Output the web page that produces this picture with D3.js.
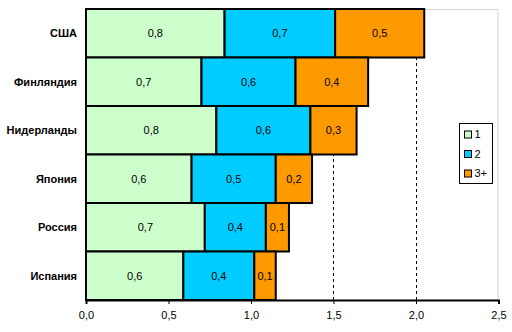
<!DOCTYPE html>
<html>
<head>
<meta charset="utf-8">
<script src="https://cdn.jsdelivr.net/npm/d3@7/dist/d3.min.js"></script>
<style>
  html, body { margin: 0; padding: 0; background: #fff; }
  svg { display: block; font-family: "Liberation Sans", Arial, sans-serif; }
</style>
</head>
<body>
<svg id="chart" width="512" height="332"></svg>
<script>
// Countries, top to bottom
const categories = ["США", "Финляндия", "Нидерланды", "Япония", "Россия", "Испания"];
// Stacked series (segment widths)
const seriesNames = ["1", "2", "3+"];
const s1 = [0.84, 0.70, 0.79, 0.64, 0.72, 0.59];
const s2 = [0.67, 0.57, 0.57, 0.51, 0.37, 0.43];
const s3 = [0.54, 0.44, 0.28, 0.22, 0.14, 0.13];
const xTicks = [0, 0.5, 1.0, 1.5, 2.0, 2.5];
const colors = ["#ccffcc", "#00ccff", "#ff9900"];

const svg = d3.select("#chart");
const margin = { left: 86, top: 9 };

const x = d3.scaleLinear().domain([0, 2.5]).range([margin.left, 498.5]);
const y = d3.scaleBand().domain(categories).range([margin.top, 300]).padding(0);

const rows = categories.map((c, i) => ({ cat: c, "1": s1[i], "2": s2[i], "3+": s3[i] }));
const stacked = d3.stack().keys(seriesNames)(rows);
const fmt = v => d3.format(".1f")(v).replace(".", ",");

// plot area frame (light gray top / right)
svg.append("path")
  .attr("d", `M${margin.left},${margin.top + 0.5}H${x(2.5) - 0.5}V300`)
  .attr("fill", "none").attr("stroke", "#d4d4d4").attr("stroke-width", 1);

// dashed vertical gridlines
svg.append("g").selectAll("line")
  .data(xTicks.slice(1, -1))
  .join("line")
  .attr("x1", d => Math.round(x(d)) + 0.5).attr("x2", d => Math.round(x(d)) + 0.5)
  .attr("y1", margin.top).attr("y2", 300)
  .attr("stroke", "#000").attr("stroke-width", 1).attr("stroke-dasharray", "3,3");

// bars
const layer = svg.append("g").selectAll("g")
  .data(stacked)
  .join("g")
  .attr("fill", (d, i) => colors[i]);

layer.selectAll("rect")
  .data(d => d)
  .join("rect")
  .attr("x", d => x(d[0]))
  .attr("y", d => y(d.data.cat))
  .attr("width", d => x(d[1]) - x(d[0]))
  .attr("height", y.bandwidth())
  .attr("stroke", "#000")
  .attr("stroke-width", 2);

// value labels
layer.selectAll("text")
  .data(d => d.map(p => ({ p, key: d.key })))
  .join("text")
  .attr("x", d => (x(d.p[0]) + x(d.p[1])) / 2)
  .attr("y", d => y(d.p.data.cat) + y.bandwidth() / 2)
  .attr("dy", "0.35em")
  .attr("text-anchor", "middle")
  .attr("fill", "#000")
  .attr("font-size", 11)
  .text(d => fmt(d.p.data[d.key]));

// x axis
const xAxis = d3.axisBottom(x).tickValues(xTicks).tickSize(4).tickFormat(fmt);
const gx = svg.append("g").attr("transform", "translate(0,300)").call(xAxis);
gx.select(".domain").attr("stroke", "#000").attr("stroke-width", 2);
gx.selectAll(".tick line").attr("stroke", "#000");
gx.selectAll(".tick text").attr("font-size", 11).attr("fill", "#000")
  .attr("font-family", "Liberation Sans, Arial, sans-serif").attr("dy", "1.05em");

// y axis line
svg.append("line")
  .attr("x1", margin.left).attr("x2", margin.left)
  .attr("y1", margin.top).attr("y2", 300)
  .attr("stroke", "#000").attr("stroke-width", 2);

// category labels
svg.append("g").selectAll("text")
  .data(categories)
  .join("text")
  .attr("x", 77)
  .attr("y", d => y(d) + y.bandwidth() / 2)
  .attr("dy", "0.35em")
  .attr("text-anchor", "end")
  .attr("font-size", 11)
  .attr("font-weight", "bold")
  .text(d => d);

// legend
const lg = svg.append("g").attr("transform", "translate(459.5,123.5)");
lg.append("rect").attr("width", 33).attr("height", 60)
  .attr("fill", "#fff").attr("stroke", "#000").attr("stroke-width", 1);
const items = lg.selectAll("g.item")
  .data(seriesNames)
  .join("g").attr("class", "item")
  .attr("transform", (d, i) => `translate(5,${11 + i * 19.5})`);
items.append("rect")
  .attr("x", 0).attr("y", -3.5).attr("width", 7).attr("height", 7)
  .attr("fill", (d, i) => colors[i]).attr("stroke", "#000").attr("stroke-width", 1);
items.append("text")
  .attr("x", 10).attr("y", 0).attr("dy", "0.35em")
  .attr("font-size", 11)
  .text(d => d);
</script>
</body>
</html>
